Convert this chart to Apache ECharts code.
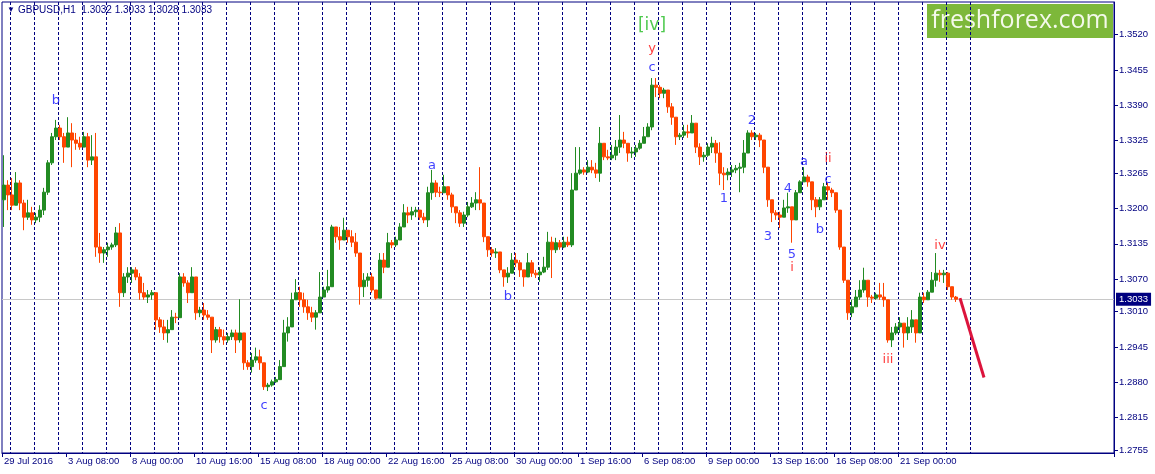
<html>
    <head>
        <title>GBPUSD H1</title>
        <meta charset="utf-8">
        <meta http-equiv="Content-Type" content="text/html; charset=utf-8">
        <script src="https://cdn.jsdelivr.net/npm/echarts@6.0.0/dist/echarts.min.js"></script>
        <style>
            body { margin: 0; background: #fff; }
            #chart { width: 1155px; height: 474px; }
        </style>
    </head>
    <body>
        <div id="chart"></div>
        <script type="text/javascript">
            // 4 hour bars, first bar 29 Jul 2016 16:00
            var opens = [
                1.3216, 1.3243, 1.3225, 1.3206, 1.3247, 1.3210, 1.3184, 1.3192, 1.3179, 1.3184,
                1.3197, 1.3230, 1.3284, 1.3332, 1.3348, 1.3332, 1.3313, 1.3339, 1.3326, 1.3320,
                1.3313, 1.3332, 1.3289, 1.3295, 1.3129, 1.3118, 1.3124, 1.3129, 1.3133, 1.3155,
                1.3045, 1.3074, 1.3081, 1.3087, 1.3074, 1.3045, 1.3037, 1.3041, 1.3045, 1.2995,
                1.2982, 1.2971, 1.2977, 1.3000, 1.2999, 1.3074, 1.3063, 1.3045, 1.3074, 1.3008,
                1.3013, 1.3004, 1.3000, 1.2958, 1.2977, 1.2964, 1.2958, 1.2964, 1.2971, 1.2958,
                1.2971, 1.2916, 1.2909, 1.2921, 1.2927, 1.2916, 1.2872, 1.2875, 1.2881, 1.2885,
                1.2909, 1.2971, 1.2982, 1.3032, 1.3045, 1.3032, 1.3019, 1.3008, 1.3000, 1.3008,
                1.3037, 1.3050, 1.3056, 1.3166, 1.3148, 1.3142, 1.3160, 1.3148, 1.3138, 1.3118,
                1.3056, 1.3068, 1.3074, 1.3050, 1.3035, 1.3105, 1.3092, 1.3137, 1.3133, 1.3142,
                1.3166, 1.3192, 1.3188, 1.3194, 1.3197, 1.3184, 1.3179, 1.3229, 1.3247, 1.3230,
                1.3229, 1.3240, 1.3225, 1.3203, 1.3192, 1.3173, 1.3188, 1.3203, 1.3210, 1.3216,
                1.3210, 1.3148, 1.3124, 1.3118, 1.3120, 1.3087, 1.3074, 1.3081, 1.3105, 1.3100,
                1.3087, 1.3074, 1.3100, 1.3081, 1.3078, 1.3083, 1.3092, 1.3138, 1.3124, 1.3137,
                1.3129, 1.3138, 1.3133, 1.3234, 1.3265, 1.3271, 1.3267, 1.3276, 1.3271, 1.3265,
                1.3320, 1.3295, 1.3293, 1.3298, 1.3313, 1.3326, 1.3320, 1.3302, 1.3304, 1.3311,
                1.3320, 1.3332, 1.3350, 1.3427, 1.3423, 1.3412, 1.3418, 1.3387, 1.3368, 1.3332,
                1.3335, 1.3341, 1.3339, 1.3357, 1.3313, 1.3295, 1.3298, 1.3313, 1.3320, 1.3302,
                1.3265, 1.3262, 1.3267, 1.3271, 1.3274, 1.3276, 1.3302, 1.3339, 1.3332, 1.3335,
                1.3326, 1.3276, 1.3216, 1.3192, 1.3188, 1.3184, 1.3201, 1.3203, 1.3179, 1.3229,
                1.3249, 1.3258, 1.3249, 1.3216, 1.3203, 1.3216, 1.3240, 1.3234, 1.3229, 1.3197,
                1.3129, 1.3068, 1.3008, 1.3019, 1.3037, 1.3050, 1.3068, 1.3037, 1.3035, 1.3041,
                1.3037, 1.3032, 1.2958, 1.2971, 1.2982, 1.2989, 1.2971, 1.2982, 1.2995, 1.2971,
                1.3037, 1.3032, 1.3046, 1.3068, 1.3081, 1.3078, 1.3081, 1.3056, 1.3037
            ];
            var closes = [
                1.3243, 1.3225, 1.3206, 1.3247, 1.3210, 1.3184, 1.3192, 1.3179, 1.3184, 1.3197,
                1.3230, 1.3284, 1.3332, 1.3348, 1.3332, 1.3313, 1.3339, 1.3326, 1.3320, 1.3313,
                1.3332, 1.3289, 1.3295, 1.3129, 1.3118, 1.3124, 1.3129, 1.3133, 1.3155, 1.3045,
                1.3074, 1.3081, 1.3087, 1.3074, 1.3045, 1.3037, 1.3041, 1.3045, 1.2995, 1.2982,
                1.2971, 1.2977, 1.3000, 1.2999, 1.3074, 1.3063, 1.3045, 1.3074, 1.3008, 1.3013,
                1.3004, 1.3000, 1.2958, 1.2977, 1.2964, 1.2958, 1.2964, 1.2971, 1.2958, 1.2971,
                1.2916, 1.2909, 1.2921, 1.2927, 1.2916, 1.2872, 1.2875, 1.2881, 1.2885, 1.2909,
                1.2971, 1.2982, 1.3032, 1.3045, 1.3032, 1.3019, 1.3008, 1.3000, 1.3008, 1.3037,
                1.3050, 1.3056, 1.3166, 1.3148, 1.3142, 1.3160, 1.3148, 1.3138, 1.3118, 1.3056,
                1.3068, 1.3074, 1.3050, 1.3035, 1.3105, 1.3092, 1.3137, 1.3133, 1.3142, 1.3166,
                1.3192, 1.3188, 1.3194, 1.3197, 1.3184, 1.3179, 1.3229, 1.3247, 1.3230, 1.3229,
                1.3240, 1.3225, 1.3203, 1.3192, 1.3173, 1.3188, 1.3203, 1.3210, 1.3216, 1.3210,
                1.3148, 1.3124, 1.3118, 1.3120, 1.3087, 1.3074, 1.3081, 1.3105, 1.3100, 1.3087,
                1.3074, 1.3100, 1.3081, 1.3078, 1.3083, 1.3092, 1.3138, 1.3124, 1.3137, 1.3129,
                1.3138, 1.3133, 1.3234, 1.3265, 1.3271, 1.3267, 1.3276, 1.3271, 1.3265, 1.3320,
                1.3295, 1.3293, 1.3298, 1.3313, 1.3326, 1.3320, 1.3302, 1.3304, 1.3311, 1.3320,
                1.3332, 1.3350, 1.3427, 1.3423, 1.3412, 1.3418, 1.3387, 1.3368, 1.3332, 1.3335,
                1.3341, 1.3339, 1.3357, 1.3313, 1.3295, 1.3298, 1.3313, 1.3320, 1.3302, 1.3265,
                1.3262, 1.3267, 1.3271, 1.3274, 1.3276, 1.3302, 1.3339, 1.3332, 1.3335, 1.3326,
                1.3276, 1.3216, 1.3192, 1.3188, 1.3184, 1.3201, 1.3203, 1.3179, 1.3229, 1.3249,
                1.3258, 1.3249, 1.3216, 1.3203, 1.3216, 1.3240, 1.3234, 1.3229, 1.3197, 1.3129,
                1.3068, 1.3008, 1.3019, 1.3037, 1.3050, 1.3068, 1.3037, 1.3035, 1.3041, 1.3037,
                1.3032, 1.2958, 1.2971, 1.2982, 1.2989, 1.2971, 1.2982, 1.2995, 1.2971, 1.3037,
                1.3032, 1.3046, 1.3068, 1.3081, 1.3078, 1.3081, 1.3056, 1.3037, 1.3033
            ];
            var lows = [
                1.3166, 1.3197, 1.3197, 1.3206, 1.3197, 1.3160, 1.3179, 1.3170, 1.3173, 1.3175,
                1.3188, 1.3225, 1.3280, 1.3326, 1.3326, 1.3284, 1.3313, 1.3276, 1.3308, 1.3308,
                1.3313, 1.3276, 1.3280, 1.3111, 1.3100, 1.3100, 1.3111, 1.3124, 1.3129, 1.3019,
                1.3037, 1.3063, 1.3063, 1.3068, 1.3032, 1.3032, 1.3026, 1.3032, 1.2977, 1.2971,
                1.2958, 1.2953, 1.2977, 1.2989, 1.2999, 1.3056, 1.3026, 1.3045, 1.2995, 1.3000,
                1.2995, 1.2995, 1.2934, 1.2953, 1.2953, 1.2949, 1.2953, 1.2958, 1.2934, 1.2953,
                1.2903, 1.2903, 1.2898, 1.2916, 1.2903, 1.2866, 1.2864, 1.2872, 1.2879, 1.2885,
                1.2909, 1.2955, 1.2982, 1.3032, 1.3019, 1.3008, 1.2995, 1.2991, 1.2977, 1.3008,
                1.3037, 1.3045, 1.3056, 1.3137, 1.3124, 1.3142, 1.3137, 1.3129, 1.3111, 1.3023,
                1.3037, 1.3056, 1.3045, 1.3032, 1.3035, 1.3081, 1.3092, 1.3127, 1.3129, 1.3142,
                1.3166, 1.3173, 1.3179, 1.3184, 1.3179, 1.3173, 1.3166, 1.3216, 1.3221, 1.3221,
                1.3229, 1.3216, 1.3192, 1.3173, 1.3166, 1.3166, 1.3184, 1.3201, 1.3197, 1.3197,
                1.3138, 1.3111, 1.3111, 1.3109, 1.3081, 1.3056, 1.3063, 1.3081, 1.3092, 1.3074,
                1.3056, 1.3074, 1.3074, 1.3072, 1.3065, 1.3081, 1.3087, 1.3072, 1.3118, 1.3124,
                1.3127, 1.3129, 1.3129, 1.3234, 1.3262, 1.3262, 1.3265, 1.3265, 1.3256, 1.3249,
                1.3289, 1.3289, 1.3289, 1.3289, 1.3302, 1.3311, 1.3286, 1.3293, 1.3295, 1.3308,
                1.3320, 1.3332, 1.3344, 1.3405, 1.3403, 1.3403, 1.3376, 1.3354, 1.3317, 1.3326,
                1.3330, 1.3330, 1.3339, 1.3302, 1.3280, 1.3286, 1.3295, 1.3302, 1.3284, 1.3243,
                1.3234, 1.3252, 1.3258, 1.3265, 1.3230, 1.3265, 1.3302, 1.3326, 1.3326, 1.3313,
                1.3265, 1.3203, 1.3175, 1.3179, 1.3164, 1.3184, 1.3192, 1.3137, 1.3179, 1.3229,
                1.3249, 1.3240, 1.3197, 1.3184, 1.3197, 1.3216, 1.3216, 1.3221, 1.3192, 1.3124,
                1.3063, 1.2995, 1.3000, 1.3019, 1.3032, 1.3045, 1.3019, 1.3026, 1.3032, 1.3032,
                1.3019, 1.2953, 1.2945, 1.2967, 1.2971, 1.2944, 1.2958, 1.2971, 1.2953, 1.2971,
                1.3026, 1.3032, 1.3046, 1.3056, 1.3065, 1.3063, 1.3050, 1.3032, 1.3028
            ];
            var highs = [
                1.3298, 1.3252, 1.3256, 1.3267, 1.3252, 1.3216, 1.3216, 1.3203, 1.3192, 1.3206,
                1.3238, 1.3289, 1.3339, 1.3363, 1.3354, 1.3339, 1.3368, 1.3357, 1.3339, 1.3332,
                1.3341, 1.3339, 1.3335, 1.3339, 1.3155, 1.3129, 1.3137, 1.3137, 1.3166, 1.3173,
                1.3081, 1.3092, 1.3092, 1.3092, 1.3081, 1.3063, 1.3050, 1.3050, 1.3045, 1.3000,
                1.2995, 1.2995, 1.3013, 1.3008, 1.3081, 1.3081, 1.3068, 1.3092, 1.3074, 1.3019,
                1.3026, 1.3013, 1.3000, 1.2982, 1.2982, 1.2977, 1.2971, 1.2977, 1.2977, 1.3033,
                1.2971, 1.2921, 1.2934, 1.2944, 1.2940, 1.2916, 1.2879, 1.2885, 1.2890, 1.2921,
                1.2995, 1.3000, 1.3045, 1.3070, 1.3056, 1.3045, 1.3032, 1.3019, 1.3013, 1.3083,
                1.3056, 1.3087, 1.3170, 1.3166, 1.3166, 1.3183, 1.3160, 1.3160, 1.3155, 1.3118,
                1.3081, 1.3081, 1.3081, 1.3050, 1.3118, 1.3118, 1.3155, 1.3142, 1.3148, 1.3173,
                1.3208, 1.3203, 1.3203, 1.3203, 1.3197, 1.3192, 1.3240, 1.3271, 1.3252, 1.3240,
                1.3262, 1.3240, 1.3229, 1.3203, 1.3197, 1.3194, 1.3212, 1.3221, 1.3230, 1.3276,
                1.3210, 1.3148, 1.3129, 1.3127, 1.3120, 1.3087, 1.3092, 1.3118, 1.3118, 1.3105,
                1.3087, 1.3118, 1.3105, 1.3087, 1.3092, 1.3111, 1.3157, 1.3148, 1.3146, 1.3142,
                1.3148, 1.3148, 1.3265, 1.3313, 1.3313, 1.3276, 1.3289, 1.3289, 1.3284, 1.3350,
                1.3320, 1.3308, 1.3317, 1.3326, 1.3372, 1.3341, 1.3320, 1.3313, 1.3317, 1.3326,
                1.3350, 1.3357, 1.3440, 1.3440, 1.3427, 1.3422, 1.3418, 1.3394, 1.3368, 1.3339,
                1.3354, 1.3354, 1.3372, 1.3357, 1.3320, 1.3304, 1.3320, 1.3332, 1.3326, 1.3322,
                1.3276, 1.3274, 1.3280, 1.3280, 1.3284, 1.3326, 1.3344, 1.3344, 1.3339, 1.3339,
                1.3326, 1.3276, 1.3216, 1.3197, 1.3194, 1.3216, 1.3229, 1.3203, 1.3234, 1.3252,
                1.3276, 1.3262, 1.3249, 1.3221, 1.3221, 1.3247, 1.3247, 1.3238, 1.3229, 1.3197,
                1.3129, 1.3068, 1.3032, 1.3050, 1.3068, 1.3091, 1.3068, 1.3041, 1.3045, 1.3063,
                1.3063, 1.3032, 1.2982, 1.2989, 1.3000, 1.2989, 1.3000, 1.3013, 1.2995, 1.3045,
                1.3045, 1.3050, 1.3083, 1.3118, 1.3087, 1.3087, 1.3083, 1.3056, 1.3039
            ];

            // time labels, one every 16 bars (64 hours)
            var xLabels = ['29 Jul 2016', '3 Aug 08:00', '8 Aug 00:00', '10 Aug 16:00', '15 Aug 08:00',
                '18 Aug 00:00', '22 Aug 16:00', '25 Aug 08:00', '30 Aug 00:00', '1 Sep 16:00',
                '6 Sep 08:00', '9 Sep 00:00', '13 Sep 16:00', '16 Sep 08:00', '21 Sep 00:00'];
            var yTicks = [1.2755, 1.2815, 1.2880, 1.2945, 1.3010, 1.3070, 1.3135,
                1.3200, 1.3265, 1.3325, 1.3390, 1.3455, 1.3520];
            var lastPrice = 1.3033;
            var header = 'GBPUSD,H1  1.3032 1.3033 1.3028 1.3033';

            // wave marks: text, bar, price, degree
            var waves = [
                ['b', 13, 1.3398, 'minute'], ['c', 65, 1.2837, 'minute'], ['a', 107, 1.3278, 'minute'],
                ['b', 126, 1.3037, 'minute'], ['[iv]', 162, 1.3536, 'minor'], ['y', 162, 1.3495, 'minuette'],
                ['c', 162, 1.3460, 'minute'], ['1', 180, 1.3219, 'minute'], ['2', 187, 1.3361, 'minute'],
                ['3', 191, 1.3149, 'minute'], ['4', 196, 1.3236, 'minute'], ['5', 197, 1.3116, 'minute'],
                ['i', 197, 1.3091, 'minuette'], ['a', 200, 1.3286, 'minute'], ['b', 204, 1.3162, 'minute'],
                ['ii', 206, 1.3291, 'minuette'], ['c', 206, 1.3254, 'minute'], ['iii', 221, 1.2921, 'minuette'],
                ['iv', 234, 1.3131, 'minuette']
            ];
            // hand drawn forecast line
            var forecast = [[239, 1.3035], [245, 1.2889]];

            var waveColors = { minute: '#1010ff', minuette: '#ff0d0d', minor: '#22bb22' };
            var waveSizes = { minute: 13, minuette: 13, minor: 17 };

            var slots = 278;     // bars that fit the window, incl. empty space on the right
            var perLabel = 16;
            var perDay = 6;
            var firstDay = 2;
            var lastDay = 242;

            var cats = [];
            for (var i = 0; i < slots; i++) cats.push(i);

            var candles = [];
            for (var k = 0; k < closes.length; k++) {
                candles.push([opens[k], closes[k], lows[k], highs[k]]);
            }

            var marks = waves.map(function (w) {
                return {
                    name: w[0],
                    value: [w[1], w[2]],
                    label: { color: waveColors[w[3]], fontSize: waveSizes[w[3]] }
                };
            });

            function labelled(idx) {
                return idx % perLabel === 0 && idx / perLabel < xLabels.length;
            }

            var navy = '#000080';
            var font = 'Liberation Sans';

            var myChart = echarts.init(document.getElementById('chart'));
            myChart.setOption({
                animation: false,
                backgroundColor: '#ffffff',
                grid: {
                    left: 2, right: 41, top: 2, bottom: 21,
                    show: true, borderColor: navy, borderWidth: 1
                },
                xAxis: {
                    type: 'category',
                    data: cats,
                    boundaryGap: true,
                    axisLine: { show: true, lineStyle: { color: navy } },
                    axisTick: {
                        show: true, length: 4, lineStyle: { color: navy },
                        interval: labelled
                    },
                    axisLabel: {
                        interval: labelled,
                        formatter: function (v, idx) { return xLabels[idx / perLabel]; },
                        align: 'left', margin: 3,
                        color: navy, fontSize: 9.5, fontFamily: font
                    },
                    splitLine: {
                        show: true,
                        interval: function (idx) { return idx >= firstDay && idx <= lastDay && (idx - firstDay) % perDay === 0; },
                        lineStyle: { color: navy, type: [3, 2], width: 1 }
                    }
                },
                yAxis: {
                    type: 'value',
                    position: 'right',
                    min: 1.2750,
                    max: 1.3580,
                    axisLine: { show: true, lineStyle: { color: navy } },
                    axisTick: { show: true, length: 4, customValues: yTicks, lineStyle: { color: navy } },
                    axisLabel: {
                        customValues: yTicks, margin: 5,
                        color: navy, fontSize: 9.5, fontFamily: font,
                        formatter: function (v) { return v.toFixed(4); }
                    },
                    splitLine: { show: false }
                },
                series: [
                    {
                        type: 'candlestick',
                        data: candles,
                        barWidth: 3,
                        z: 2,
                        itemStyle: {
                            color: '#228b22', color0: '#ff4500',
                            borderColor: '#228b22', borderColor0: '#ff4500',
                            borderWidth: 1
                        },
                        markLine: {
                            silent: true,
                            z: 1,
                            precision: 4,
                            symbol: ['none', 'none'],
                            lineStyle: { color: '#c8c8c8', type: 'solid', width: 1 },
                            label: {
                                show: true, position: 'end', distance: 2,
                                formatter: lastPrice.toFixed(4),
                                backgroundColor: navy, color: '#ffffff',
                                fontSize: 9.5, fontFamily: font, padding: [2, 3, 1, 3]
                            },
                            data: [{ yAxis: lastPrice }]
                        }
                    },
                    {
                        type: 'line',
                        data: forecast,
                        symbol: 'none',
                        z: 5,
                        lineStyle: { color: '#dc143c', width: 3 }
                    },
                    {
                        type: 'scatter',
                        data: marks,
                        symbolSize: 0,
                        itemStyle: { color: 'rgba(0,0,0,0)' },
                        z: 6,
                        label: {
                            show: true, position: 'inside',
                            formatter: '{b}', fontFamily: 'DejaVu Sans'
                        }
                    }
                ],
                graphic: [
                    { type: 'text', left: 7, top: 6, style: { text: '\u25BC', fontSize: 8, fill: navy } },
                    { type: 'text', left: 18, top: 5, style: { text: header, fontSize: 10, fontFamily: font, fill: navy } },
                    { type: 'rect', shape: { x: 927, y: 4, width: 186, height: 34 }, style: { fill: '#7db83a' } },
                    {
                        type: 'text', x: 1020, y: 21,
                        style: {
                            text: 'freshforex.com', align: 'center', verticalAlign: 'middle',
                            fontSize: 25, fontFamily: 'Open Sans', fill: '#f4f9ea'
                        }
                    }
                ]
            });
        </script>
    </body>
</html>
